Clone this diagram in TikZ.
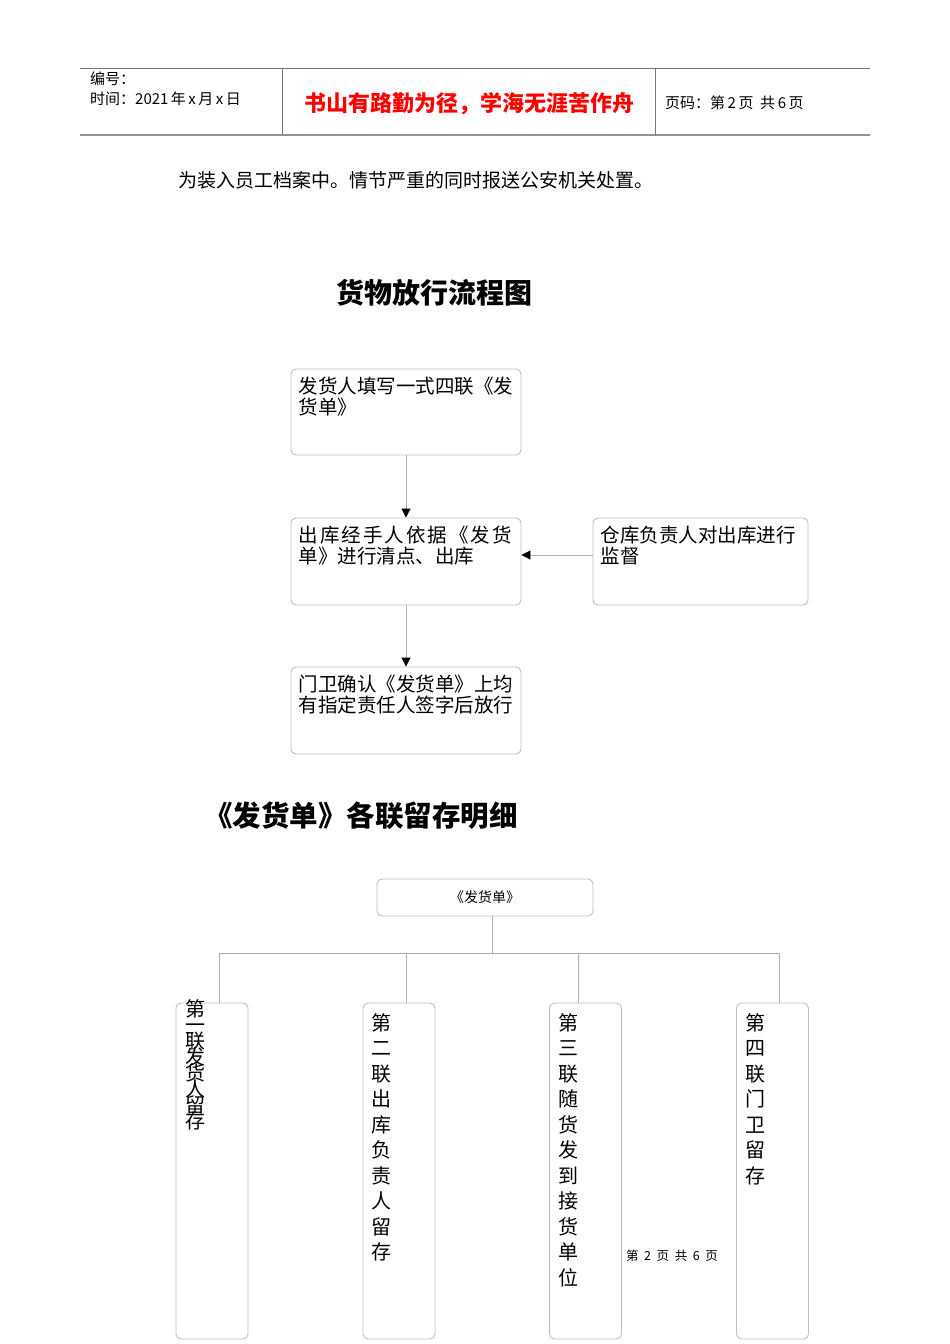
\documentclass[tikz,border=0pt]{standalone}
\usepackage{fontspec}
\setmainfont{Noto Sans CJK SC}
\usepackage{tikz}
\usetikzlibrary{arrows.meta}

\definecolor{boxgray}{RGB}{190,190,190}
\definecolor{linegray}{RGB}{175,175,175}
\definecolor{rulegray}{RGB}{120,120,120}

\newcommand{\squeezelines}{\lineskiplimit=-20pt\relax}

\tikzset{
    box/.style={draw=boxgray, rounded corners=5pt, line width=0.9pt, inner sep=0pt},
    boxtext/.style={anchor=north west, align=left, inner sep=0pt, font=\fontsize{19.5}{21.5}\selectfont},
    coltext/.style={anchor=north, align=center, inner sep=0pt, font=\fontsize{20}{25.5}\selectfont},
    link/.style={draw=linegray, line width=0.9pt},
    arr/.style={link, -{Triangle[black, length=9pt, width=9pt]}}
}

\begin{document}
\begin{tikzpicture}[x=1pt, y=-1pt]
    \useasboundingbox (0,0) rectangle (950,1344);
    %Header
    \draw[rulegray, line width=0.9pt] (80,68) -- (870,68);
    \draw[rulegray!80, line width=1.8pt] (80,135) -- (870,135);
    \draw[rulegray, line width=0.9pt] (282,68) -- (282,135)
            (655,68) -- (655,135);
    \node(hdnum)[anchor=west, inner sep=0pt, font=\fontsize{15}{15}\selectfont] at (90,79) {编号：};
    \node(hdtime)[anchor=west, inner sep=0pt, font=\fontsize{15}{15}\selectfont] at (90,99) {时间：2021\,年\,x\,月\,x\,日};
    \node(hdmotto)[inner sep=0pt, text=red, font=\fontsize{22}{22}\selectfont\bfseries] at (469,104) {书山有路勤为径，学海无涯苦作舟};
    \node(hdpage)[anchor=west, inner sep=0pt, font=\fontsize{15}{15}\selectfont] at (665,103) {页码：第\,2\,页\ \ 共\,6\,页};
    \node(prev)[anchor=west, inner sep=0pt, font=\fontsize{19}{19}\selectfont] at (178,180) {为装入员工档案中。情节严重的同时报送公安机关处置。};

    %Flow chart
    \node(title1)[inner sep=0pt, font=\fontsize{28}{28}\selectfont\bfseries] at (434,293) {货物放行流程图};
    \begin{scope}[every node/.append style={box}]
        \node(fill)[minimum width=230pt, minimum height=86pt] at (406,412) {};
        \node(count)[minimum width=230pt, minimum height=87pt] at (406,561.5) {};
        \node(watch)[minimum width=215pt, minimum height=87pt] at (700.5,561.5) {};
        \node(gate)[minimum width=230pt, minimum height=87pt] at (406,710.5) {};
    \end{scope}
    \node[boxtext] at ([shift={(8,8)}]fill.north west) {发货人填写一式四联《发\\货单》};
    \node[boxtext] at ([shift={(8,8)}]count.north west) {\makebox[213pt][s]{出\hfill 库\hfill 经\hfill 手\hfill 人\hfill 依\hfill 据\hfill 《\hfill 发\hfill 货}\\单》进行清点、出库};
    \node[boxtext] at ([shift={(8,8)}]watch.north west) {仓库负责人对出库进行\\监督};
    \node[boxtext] at ([shift={(8,8)}]gate.north west) {门卫确认《发货单》上均\\有指定责任人签字后放行};
    %Arrows
    \draw[arr] (fill) -- (count);
    \draw[arr] ([yshift=6.5pt]watch.west) -- ([yshift=6.5pt]count.east);
    \draw[arr] (count) -- (gate);

    %Copies of the bill
    \node(title2)[anchor=west, inner sep=0pt, font=\fontsize{28.5}{28.5}\selectfont\bfseries] at (204,816) {《发货单》各联留存明细};
    \node(bill)[box, minimum width=216pt, minimum height=37pt, font=\fontsize{14}{14}\selectfont] at (485,897.5) {《发货单》};
    \begin{scope}[every node/.append style={box, minimum width=72pt, minimum height=336pt}]
        \node(c1) at (212,1171) {};
        \node(c2) at (399,1171) {};
        \node(c3) at (585.5,1171) {};
        \node(c4) at (772.5,1171) {};
    \end{scope}
    \coordinate(fork) at (492,953);
    \draw[link] (bill.south -| fork) -- (fork);
    \draw[link] (219,953) -- (779,953);
    \draw[link] (219,953) -- (219,1003)
            (406,953) -- (406,1003)
            (578,953) -- (578,1003)
            (779,953) -- (779,1003);
    \node[coltext, font=\fontsize{20}{16}\selectfont\squeezelines] at (195,999) {第\\一\\联\\发\\货\\人\\留\\存};
    \node[coltext] at (381,1013) {第\\二\\联\\出\\库\\负\\责\\人\\留\\存};
    \node[coltext] at (568,1013) {第\\三\\联\\随\\货\\发\\到\\接\\货\\单\\位};
    \node[coltext] at (755,1013) {第\\四\\联\\门\\卫\\留\\存};
    \node(foot)[inner sep=0pt, font=\fontsize{12.5}{12.5}\selectfont] at (672,1256) {第\ \ 2\ \ 页\ \ 共\ \ 6\ \ 页};
\end{tikzpicture}
\end{document}
